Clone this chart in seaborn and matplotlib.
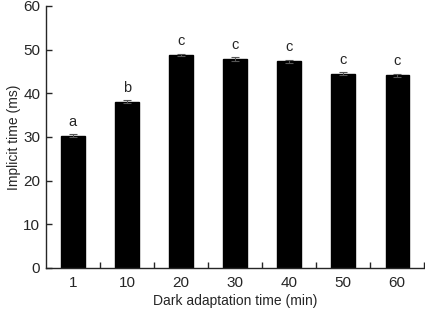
import numpy as np
import pandas as pd
import matplotlib.pyplot as plt
import seaborn as sns
from matplotlib.ticker import FixedLocator

# data
times = ['1', '10', '20', '30', '40', '50', '60']
implicit = [30.3, 38.1, 48.8, 47.8, 47.3, 44.5, 44.1]
sem = [0.4, 0.4, 0.3, 0.4, 0.4, 0.4, 0.4]
letters = ['a', 'b', 'c', 'c', 'c', 'c', 'c']

df = pd.DataFrame({'time': times, 'implicit': implicit})

sns.set_style('ticks')
plt.rcParams['font.family'] = ['Liberation Sans', 'DejaVu Sans']

fig = plt.figure(figsize=(4.25, 3.3), dpi=100)
ax = fig.add_axes([0.108, 0.188, 0.89, 0.794])

sns.barplot(data=df, x='time', y='implicit', color='black', width=0.43,
            edgecolor='black', saturation=1, ax=ax)
ax.errorbar(np.arange(len(times)), implicit, yerr=sem, fmt='none',
            ecolor='#555555', elinewidth=0.8, capsize=3, capthick=0.8)

for i, (v, e, t) in enumerate(zip(implicit, sem, letters)):
    ax.text(i, v + e + 1.2, t, ha='center', va='bottom', fontsize=10.5)

ax.set_xlim(-0.5, len(times) - 0.5)
ax.set_ylim(0, 60)
ax.set_yticks(range(0, 61, 10))
ax.xaxis.set_minor_locator(FixedLocator(np.arange(0.5, len(times), 1.0)))
ax.tick_params(axis='x', which='major', length=0, pad=6, labelsize=11)
ax.tick_params(axis='x', which='minor', direction='in', length=4, width=1)
ax.tick_params(axis='y', direction='in', length=4, width=1, labelsize=11, pad=4)
sns.despine(ax=ax)
for s in ['left', 'bottom']:
    ax.spines[s].set_linewidth(1)

ax.set_xlabel('Dark adaptation time (min)', fontsize=10, labelpad=3)
ax.set_ylabel('Implicit time (ms)', fontsize=10, labelpad=2)

fig.savefig('out.png', dpi=100)
